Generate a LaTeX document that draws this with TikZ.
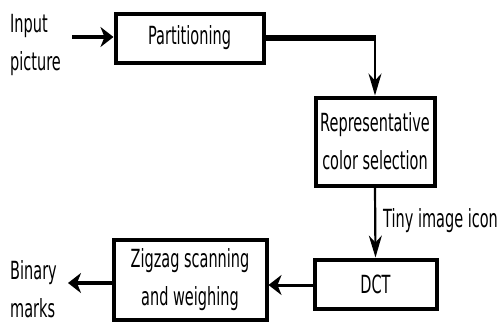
\documentclass[tikz,border=0pt]{standalone}
\usepackage{fontspec}
\setmainfont{DejaVu Sans}[FakeStretch=0.58]
\usetikzlibrary{arrows.meta,positioning}
\tikzset{
  lbl/.style={font=\fontsize{25}{38}\selectfont,align=left,inner sep=0pt},
  hflow/.style={-{Stealth[length=13pt,width=20pt,inset=4pt]},line width=3.5pt},
  vflow/.style={-{Stealth[length=22pt,width=13pt,inset=7pt]},line width=2.2pt}
}
\newcommand{\stage}[5]{%
  \node[draw=black,line width=4pt,fill=white,inner sep=0pt,
        minimum width=#3,minimum height=#4,align=center,
        font=\fontsize{25}{38}\selectfont]
       (#1) at #2 {#5};}

\begin{document}
\begin{tikzpicture}[x=1pt,y=1pt]
  \useasboundingbox (0,0) rectangle (500,-322);

  % Processing stages
  \stage{part}{(189.5,-38)}{148pt}{49pt}{Partitioning}
  \stage{repr}{(375,-141.5)}{119pt}{88pt}{Representative\\color selection}
  \stage{dct}{(375.5,-284)}{122pt}{49pt}{DCT}
  \stage{zigzag}{(190,-280)}{153pt}{80pt}{Zigzag scanning\\and weighing}

  % Inputs and outputs
  \node[lbl,anchor=west] (input) at (10,-45) {Input\\picture};
  \node[lbl,anchor=west] (binary) at (10,-289) {Binary\\marks};
  \node[lbl,anchor=west] (icon) at (383,-221) {Tiny image icon};
  \coordinate (instart) at (72,-37);
  \coordinate (outend) at (68,-283);
  \coordinate (bend) at (375,-38);

  \draw[hflow,line width=4pt] (instart) -- (part.west |- instart);
  \draw[line width=6pt] (part.east |- bend) -- ([xshift=1pt]bend);
  \draw[vflow] (bend) -- (repr.north);
  \draw[vflow] (repr.south) -- (dct.north);
  \draw[hflow,line width=3pt] (dct.west |- 0,-285) -- (zigzag.east |- 0,-285);
  \draw[hflow,line width=4.5pt] (zigzag.west |- outend) -- (outend);
\end{tikzpicture}
\end{document}
